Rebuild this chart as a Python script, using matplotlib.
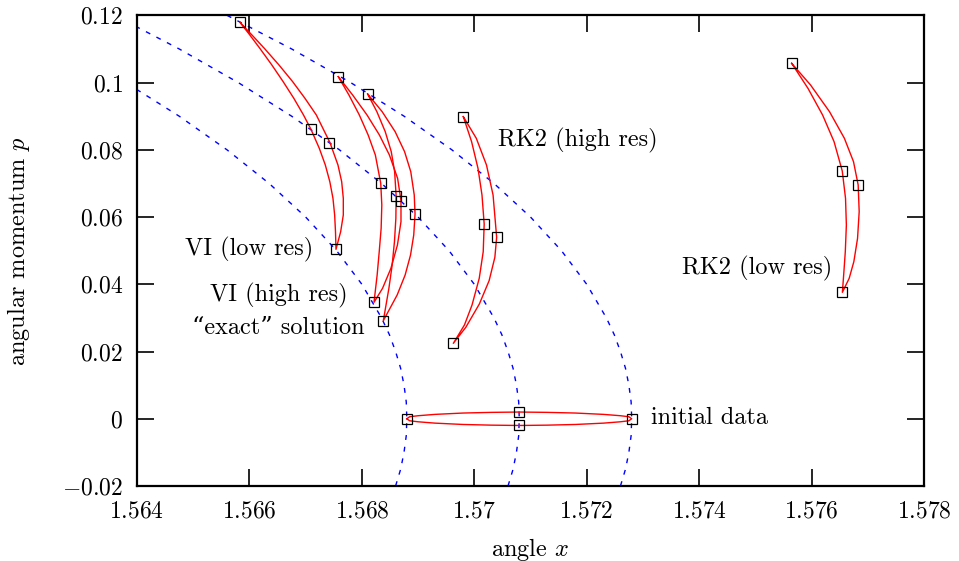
import matplotlib
matplotlib.use('Agg')
import matplotlib.pyplot as plt

plt.rcParams['font.family'] = ['cmr10', 'DejaVu Serif']
plt.rcParams['mathtext.fontset'] = 'cm'
plt.rcParams['axes.formatter.use_mathtext'] = True

# ---- axes ticks ----
x_ticks = [1.564, 1.566, 1.568, 1.570, 1.572, 1.574, 1.576, 1.578]
x_tick_labels = ['$1.564$', '$1.566$', '$1.568$', '$1.57$', '$1.572$', '$1.574$', '$1.576$', '$1.578$']
y_ticks = [-0.02, 0.0, 0.02, 0.04, 0.06, 0.08, 0.10, 0.12]
y_tick_labels = ['$-0.02$', '$0$', '$0.02$', '$0.04$', '$0.06$', '$0.08$', '$0.1$', '$0.12$']

# ---- dashed level curves (exact solution energy levels) ----
level_p = [0.12, 0.11, 0.10, 0.09, 0.08, 0.07, 0.06, 0.05, 0.04, 0.03, 0.025, 0.02,
           0.015, 0.01, 0.005, 0.0, -0.005, -0.01, -0.015, -0.02]
level1_x = [1.5616, 1.56275, 1.5638, 1.56475, 1.5656, 1.56635, 1.5670, 1.56755, 1.5680,
            1.56835, 1.56849, 1.5686, 1.56869, 1.56875, 1.56879, 1.5688, 1.56879, 1.56875,
            1.56869, 1.5686]
level2_x = [1.5636, 1.56475, 1.5658, 1.56675, 1.5676, 1.56835, 1.5690, 1.56955, 1.5700,
            1.57035, 1.57049, 1.5706, 1.57069, 1.57075, 1.57079, 1.5708, 1.57079, 1.57075,
            1.57069, 1.5706]
level3_x = [1.5656, 1.56675, 1.5678, 1.56875, 1.5696, 1.57035, 1.5710, 1.57155, 1.5720,
            1.57235, 1.57249, 1.5726, 1.57269, 1.57275, 1.57279, 1.5728, 1.57279, 1.57275,
            1.57269, 1.5726]

# ---- evolved loops (red) ----
init_x = [1.5688, 1.56885, 1.5690, 1.5693, 1.5698, 1.5703, 1.5708, 1.5713, 1.5718, 1.5723,
          1.5726, 1.57275, 1.5728, 1.57275, 1.5726, 1.5723, 1.5718, 1.5713, 1.5708, 1.5703,
          1.5698, 1.5693, 1.5690, 1.56885, 1.5688]
init_y = [0.0, 0.0006, 0.0009, 0.0013, 0.0017, 0.0019, 0.0020, 0.0019, 0.0017, 0.0013,
          0.0009, 0.0006, 0.0, -0.0006, -0.0009, -0.0013, -0.0017, -0.0019, -0.0020, -0.0019,
          -0.0017, -0.0013, -0.0009, -0.0006, 0.0]

vi_low_x = [1.565832, 1.566007, 1.566185, 1.566399, 1.566600, 1.566790, 1.566962, 1.567095,
            1.567243, 1.567350, 1.567430, 1.567486, 1.567516, 1.567531, 1.567540,
            1.567623, 1.567670, 1.567670, 1.567641, 1.567575, 1.567433, 1.567190, 1.566988,
            1.566769, 1.566526, 1.566265, 1.566045, 1.565832]
vi_low_y = [0.117908, 0.114141, 0.110175, 0.105218, 0.100261, 0.095304, 0.090347, 0.086084,
            0.080433, 0.075476, 0.070519, 0.065562, 0.060605, 0.055648, 0.050394,
            0.055648, 0.060605, 0.065562, 0.070519, 0.075476, 0.082118, 0.090347, 0.095304,
            0.100261, 0.105218, 0.110175, 0.114141, 0.117908]

vi_high_x = [1.567581, 1.567770, 1.567955, 1.568112, 1.568240, 1.568336, 1.568355, 1.568343,
             1.568309, 1.568272, 1.568216,
             1.568368, 1.568517, 1.568633, 1.568696, 1.568696, 1.568636, 1.568490, 1.568312,
             1.568092, 1.567836, 1.567581]
vi_high_y = [0.101748, 0.096295, 0.090347, 0.084399, 0.078450, 0.070024, 0.063579, 0.056639,
             0.049700, 0.042760, 0.034630,
             0.038794, 0.044743, 0.051682, 0.058622, 0.064868, 0.071511, 0.078450, 0.084399,
             0.090347, 0.096295, 0.101748]

exact_x = [1.568103, 1.568267, 1.568416, 1.568523, 1.568583, 1.568610, 1.568605, 1.568580,
           1.568539, 1.568481, 1.568382,
           1.568628, 1.568770, 1.568866, 1.568923, 1.568946, 1.568932, 1.568870, 1.568760,
           1.568592, 1.568361, 1.568103]
exact_y = [0.096593, 0.091338, 0.085390, 0.079442, 0.073493, 0.066256, 0.059614, 0.052674,
           0.045734, 0.038794, 0.029177,
           0.036811, 0.042760, 0.048708, 0.054657, 0.060902, 0.066553, 0.073493, 0.079442,
           0.085390, 0.091338, 0.096593]

rk2_high_x = [1.569805, 1.569952, 1.570066, 1.570137, 1.570176, 1.570159, 1.570088, 1.569960,
              1.569825, 1.569627,
              1.569849, 1.570090, 1.570264, 1.570366, 1.570398, 1.570334, 1.570217, 1.570036,
              1.569805]
rk2_high_y = [0.089851, 0.082416, 0.074484, 0.066553, 0.057928, 0.049699, 0.041768, 0.033837,
              0.027889, 0.022436,
              0.027194, 0.034134, 0.041074, 0.048014, 0.053962, 0.066553, 0.075476, 0.083407,
              0.089851]

rk2_low_x = [1.575646, 1.575936, 1.576196, 1.576400, 1.576546, 1.576604, 1.576619, 1.576600,
             1.576571, 1.576548,
             1.576669, 1.576752, 1.576818, 1.576847, 1.576829, 1.576746, 1.576584, 1.576319,
             1.575982, 1.575646]
rk2_low_y = [0.105713, 0.098278, 0.090347, 0.082416, 0.073692, 0.065562, 0.057631, 0.049699,
             0.042760, 0.037604,
             0.041768, 0.046725, 0.053665, 0.061596, 0.069527, 0.076467, 0.083407, 0.091338,
             0.099269, 0.105713]

# ---- marked points (squares) ----
sq_x = [1.5688, 1.5708, 1.5728, 1.5708,
        1.565832, 1.567089, 1.567540, 1.567421,
        1.567581, 1.568334, 1.568216, 1.568690,
        1.568103, 1.568607, 1.568382, 1.568945,
        1.569805, 1.570179, 1.569627, 1.570398,
        1.575646, 1.576548, 1.576548, 1.576832]
sq_y = [0.0, 0.002, 0.0, -0.002,
        0.117908, 0.086084, 0.050394, 0.082118,
        0.101748, 0.070023, 0.034630, 0.064868,
        0.096593, 0.066256, 0.029177, 0.060903,
        0.089851, 0.057928, 0.022436, 0.053962,
        0.105713, 0.073691, 0.037604, 0.069527]

fig = plt.figure(figsize=(9.59, 5.61), dpi=100)
ax = fig.add_axes([137 / 959, (561 - 486) / 561, 787 / 959, 470.7 / 561])

for lx in (level1_x, level2_x, level3_x):
    ax.plot(lx, level_p, color='blue', lw=1.0, ls=(0, (3.5, 5)), zorder=1)

for lx, ly in ((init_x, init_y), (vi_low_x, vi_low_y), (vi_high_x, vi_high_y),
               (exact_x, exact_y), (rk2_high_x, rk2_high_y), (rk2_low_x, rk2_low_y)):
    ax.plot(lx, ly, color='red', lw=1.0, zorder=2)

ax.plot(sq_x, sq_y, ls='none', marker='s', mfc='none', mec='black', ms=7.8, mew=0.9, zorder=3)

ax.set_xlim(1.564, 1.578)
ax.set_ylim(-0.02, 0.12)
ax.set_xticks(x_ticks)
ax.set_xticklabels(x_tick_labels)
ax.set_yticks(y_ticks)
ax.set_yticklabels(y_tick_labels)
ax.tick_params(direction='in', top=True, right=True, length=12, width=1.2,
               labelsize=17, colors='black')
ax.tick_params(axis='x', pad=10)
ax.tick_params(axis='y', pad=10)
for s in ax.spines.values():
    s.set_linewidth(1.6)

fs = 17.5
ax.text(1.567131, 0.0503, 'VI (low res)', ha='right', va='center', fontsize=fs)
ax.text(1.567754, 0.0366, 'VI (high res)', ha='right', va='center', fontsize=fs)
ax.text(1.568056, 0.0269, '\u201cexact\u201d solution', ha='right', va='center', fontsize=fs)
ax.text(1.570422, 0.0828, 'RK2 (high res)', ha='left', va='center', fontsize=fs)
ax.text(1.573696, 0.0447, 'RK2 (low res)', ha='left', va='center', fontsize=fs)
ax.text(1.573144, 0.0001, 'initial data', ha='left', va='center', fontsize=fs)

ax.set_xlabel('angle $x$', fontsize=fs)
ax.set_ylabel('angular momentum $p$', fontsize=fs)
ax.xaxis.set_label_coords(0.5, -0.106)
ax.yaxis.set_label_coords(-0.133, 0.5)

fig.savefig('out.png', dpi=100)
